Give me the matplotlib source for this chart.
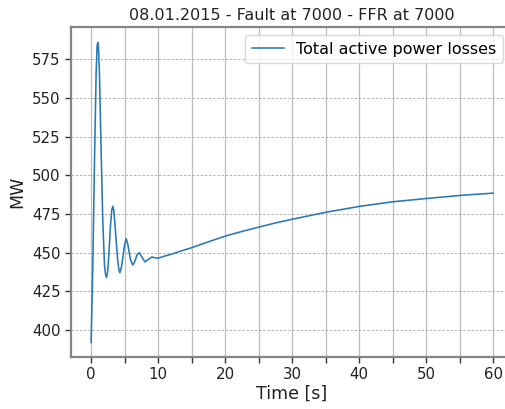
import numpy as np
import matplotlib
matplotlib.use('Agg')
import matplotlib.pyplot as plt
from matplotlib.ticker import MultipleLocator

### data
time_s = [0.0, 0.25, 0.5, 0.75, 0.9, 1.0, 1.1, 1.25, 1.5, 1.75, 2.0, 2.15, 2.3,
          2.45, 2.6, 2.9, 3.1, 3.25, 3.4, 3.6, 3.95, 4.15, 4.3, 4.45, 4.65,
          5.0, 5.25, 5.5, 5.85, 6.2, 6.5, 6.85, 7.2, 7.6, 8.05, 8.5, 9.05,
          9.5, 10.0, 11.0, 12.0, 13.0, 15.0, 17.5, 20.0, 22.5, 25.0, 27.5,
          30.0, 35.0, 40.0, 45.0, 50.0, 55.0, 60.0]
losses_mw = [392, 440, 507, 566, 584, 586, 583, 565, 515, 470, 442, 436, 434,
             437, 445, 468, 478, 480, 477, 466, 446, 439, 437, 439, 444,
             455, 459, 455, 446, 442, 444, 448.5, 450, 447, 444, 445.5, 447.2,
             446.7, 446.4, 447.8, 449, 450.5, 453.2, 457, 460.7, 463.7, 466.5, 469.2,
             471.6, 476.1, 479.9, 482.9, 485.0, 487.0, 488.5]

title = '08.01.2015 - Fault at 7000 - FFR at 7000'
series_name = 'Total active power losses'

fig = plt.figure(figsize=(5.06, 4.09), dpi=100)
# right edge of the axes falls just outside the picture, as in the reference
ax = fig.add_axes([0.1403, 0.1271, 0.874, 0.807])

ax.plot(time_s, losses_mw, color='#2878b5', lw=1.15, label=series_name)

ax.xaxis.set_major_locator(MultipleLocator(10))
ax.xaxis.set_minor_locator(MultipleLocator(5))
ax.yaxis.set_major_locator(MultipleLocator(25))
ax.set_xlim(-3, 63)
ax.set_ylim(382.5, 596)

ax.grid(True, axis='x', which='both', color='#bdbdbd', lw=0.9, ls='-')
ax.grid(True, axis='y', which='major', color='#a6a6a6', lw=0.6, ls=(0, (3, 2)))
ax.set_axisbelow(True)

for s in ax.spines.values():
    s.set_color('#858585')
    s.set_linewidth(1.6)
ax.tick_params(which='both', direction='out', length=4, width=1, color='#333333',
               labelsize=10.8, labelcolor='#222222')

ax.set_xlabel('Time [s]', fontsize=12.5, color='#222222', labelpad=2)
ax.set_ylabel('MW', fontsize=12.5, color='#222222')
ax.set_title(title, fontsize=11.5, color='#222222', pad=5)
ax.legend(loc='upper right', fontsize=11.5, framealpha=0.8, edgecolor='#d0d0d0',
          bbox_to_anchor=(0.994, 0.914), bbox_transform=fig.transFigure,
          borderaxespad=0)

fig.savefig('out.png', dpi=100)
